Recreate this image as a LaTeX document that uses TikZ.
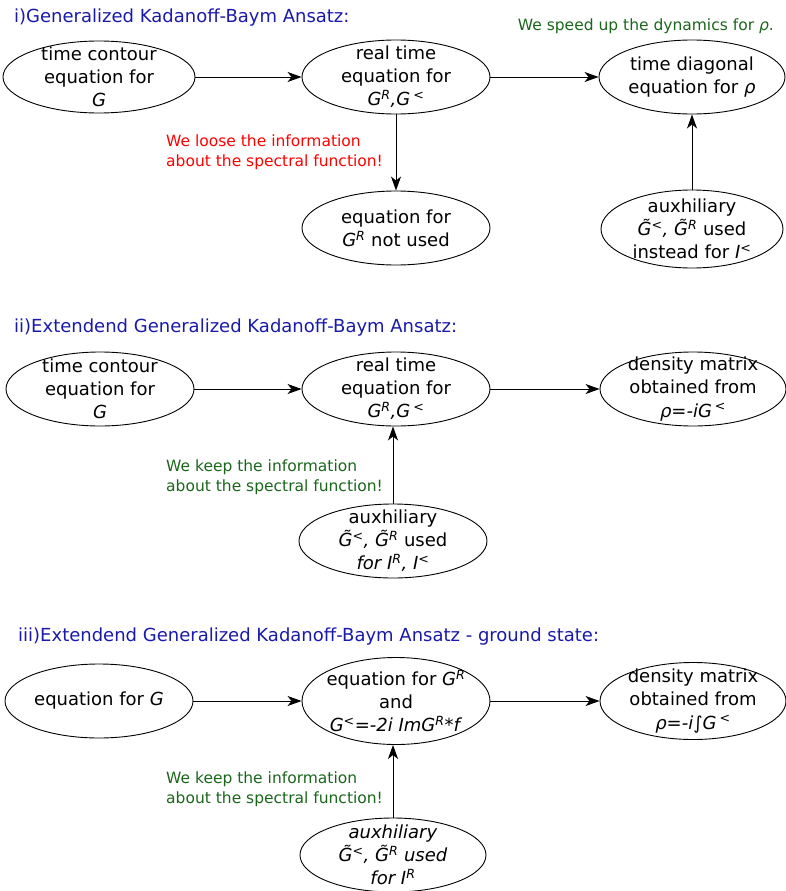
\documentclass[tikz,border=0pt]{standalone}
\usepackage{fontspec}
\setmainfont{DejaVu Sans}
\usetikzlibrary{shapes.geometric, arrows.meta}
\definecolor{BLUE}{HTML}{1A1AAA}
\definecolor{GREEN}{HTML}{1A661A}
\definecolor{RED}{HTML}{FF0000}
\definecolor{BLACK}{HTML}{000000}
\newcommand{\hi}[1]{\textsuperscript{#1}}

\begin{document}
\begin{tikzpicture}[x=1pt, y=-1pt,
    blob/.style={ellipse, draw=BLACK, line width=0.9pt, inner sep=0pt, minimum width=188pt, minimum height=74pt},
    txt/.style={BLACK, align=center, inner sep=0pt, font=\fontsize{18}{23.2}\selectfont},
    note/.style={align=left, inner sep=0pt, font=\fontsize{15.5}{20}\selectfont},
    head/.style={BLUE, anchor=west, inner sep=0pt, font=\fontsize{18}{22}\selectfont},
    flow/.style={BLACK, line width=0.9pt, -{Stealth[length=14pt, width=10pt, inset=4pt]}}]
    \useasboundingbox (0,0) rectangle (785,891);

    % i)
    \node[head] (ti) at (14,18) {i)Generalized Kadanoff-Baym Ansatz:};
    \node[blob, minimum width=192pt, minimum height=72pt] (c1i) at (99,77) {};
    \node[blob] (c2i) at (396,77) {};
    \node[blob, minimum width=186pt] (c3i) at (692,77) {};
    \node[blob] (c4i) at (396,228) {};
    \node[blob, minimum width=182pt, minimum height=78pt] (c5i) at (692,229) {};
    \node[txt] (c1it) at (c1i) {time contour\\equation for\\\textit{G}};
    \node[txt] (c2it) at (c2i) {real time\\equation for\\\textit{G\hi{R},G\,\hi{<}}};
    \node[txt] (c3it) at (c3i) {time diagonal\\equation for \textit{ρ}};
    \node[txt] (c4it) at (c4i) {equation for\\\textit{G\hi{R}} not used};
    \node[txt] (c5it) at (c5i) {auxhiliary\\\textit{\~G\hi{<}, \~G\hi{R}} used\\instead for \textit{I\hi{<}}};
    \node[note, GREEN, anchor=east] (ni) at (774,26) {We speed up the dynamics for \textit{ρ}.};
    \node[note, RED, anchor=west] (lose) at (166,152) {We loose the information\\about the spectral function!};
    \draw[flow] (c1i) -- (c2i);
    \draw[flow] (c2i) -- (c3i);
    \draw[flow] (c2i) -- (c4i);
    \draw[flow] (c5i) -- (c3i);

    % ii)
    \node[head] (tii) at (14,328) {ii)Extendend Generalized Kadanoff-Baym Ansatz:};
    \node[blob] (c1ii) at (100,389) {};
    \node[blob] (c2ii) at (396,389) {};
    \node[blob, minimum width=186pt] (c3ii) at (693,389) {};
    \node[blob] (c4ii) at (393,541) {};
    \node[txt] (c1iit) at (c1ii) {time contour\\equation for\\\textit{G}};
    \node[txt] (c2iit) at (c2ii) {real time\\equation for\\\textit{G\hi{R},G\,\hi{<}}};
    \node[txt] (c3iit) at (c3ii) {density matrix\\obtained from\\\textit{ρ=-iG\,\hi{<}}};
    \node[txt] (c4iit) at (c4ii) {auxhiliary\\\textit{\~G\hi{<}, \~G\hi{R}} used\\\textit{for I\hi{R}, I\hi{<}}};
    \node[note, GREEN, anchor=west] (keepii) at (166,477) {We keep the information\\about the spectral function!};
    \draw[flow] (c1ii) -- (c2ii);
    \draw[flow] (c2ii) -- (c3ii);
    \draw[flow] (c4ii.north) -- (c4ii.north |- c2ii.south);

    % iii)
    \node[head] (tiii) at (18,637) {iii)Extendend Generalized Kadanoff-Baym Ansatz - ground state:};
    \node[blob] (c1iii) at (99,701) {};
    \node[blob, minimum width=188pt, minimum height=87pt] (c2iii) at (396,701) {};
    \node[blob, minimum width=186pt, minimum height=77pt] (c3iii) at (693,701) {};
    \node[blob, minimum width=186pt] (c4iii) at (393,855) {};
    \node[txt] (c1iiit) at (c1iii) {equation for \textit{G}};
    \node[txt] (c2iiit) at (c2iii) {equation for \textit{G\hi{R}}\\and\\\textit{G\hi{<}=-2i ImG\hi{R}*f}};
    \node[txt] (c3iiit) at (c3iii) {density matrix\\obtained from\\\textit{ρ=-i∫G\,\hi{<}}};
    \node[txt] (c4iiit) at (c4iii) {\textit{auxhiliary}\\\textit{\~G\hi{<}, \~G\hi{R} used}\\\textit{for I\hi{R}}};
    \node[note, GREEN, anchor=west] (keepiii) at (166,789) {We keep the information\\about the spectral function!};
    \draw[flow] (c1iii) -- (c2iii);
    \draw[flow] (c2iii) -- (c3iii);
    \draw[flow] (c4iii.north) -- (c4iii.north |- c2iii.south);
\end{tikzpicture}
\end{document}
